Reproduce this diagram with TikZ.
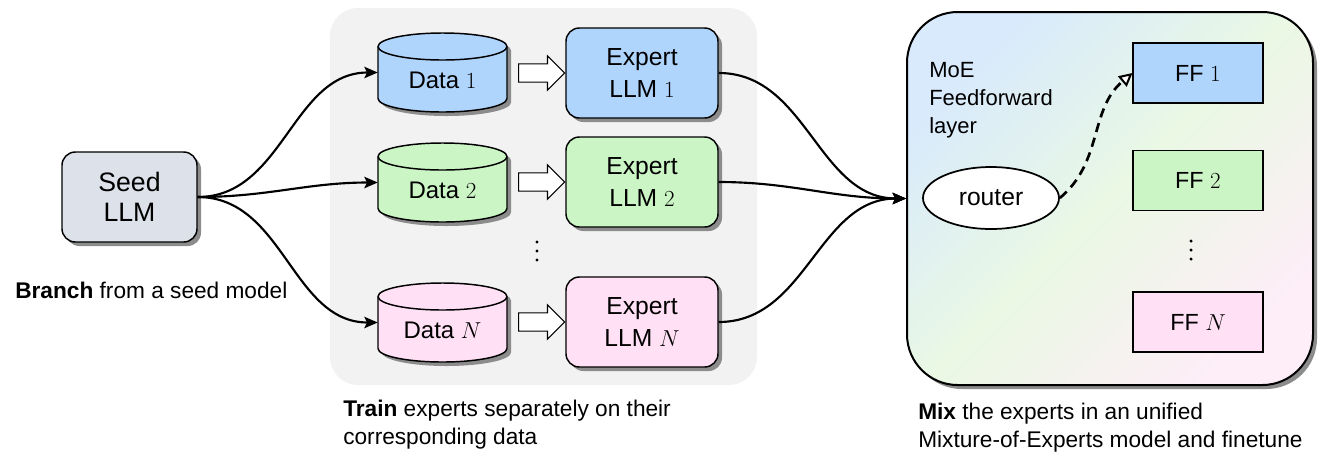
\documentclass[tikz,border=0pt]{standalone}
\usepackage[no-math]{fontspec}
\setmainfont{Liberation Sans}
\usetikzlibrary{arrows.meta,shapes.geometric,shapes.arrows,shadows,calc}
\definecolor{cblue}{HTML}{B0D5FD}
\definecolor{cgreen}{HTML}{CCF5C6}
\definecolor{cpink}{HTML}{FFE0F4}
\definecolor{cseed}{HTML}{DDE1EA}
\definecolor{cpanel}{HTML}{F2F2F2}
\definecolor{cshadow}{HTML}{8C8C8C}
\definecolor{moeA}{HTML}{D8EAFC}
\definecolor{moeB}{HTML}{EAF8E4}
\definecolor{moeC}{HTML}{FDEEF7}
\newcommand\datacyl[4]{%
  \fill[cshadow] (382,{#2-22}) -- (382,{#2+30}) arc(180:0:64.5 and 13.5) -- (511,{#2-22}) arc(0:-180:64.5 and 13.5) -- cycle;
  \draw[fill=#3, line width=1.1pt] (378,{#2-26}) -- (378,{#2+26}) arc(180:0:64.5 and 13.5) -- (507,{#2-26}) arc(0:-180:64.5 and 13.5) -- cycle;
  \draw[line width=1.1pt] (378,{#2-26}) arc(180:0:64.5 and 13.5);
  \node[datanode] (#1) at (442.5,#2) {};
  \node[datatext] (#1t) at (442.5,{#2+8}) {#4};
}
\newcommand\vdotsat[1]{%
  \fill ([yshift=6.75pt]#1) circle[radius=1.3pt];
  \fill (#1) circle[radius=1.3pt];
  \fill ([yshift=-6.75pt]#1) circle[radius=1.3pt];
}
\begin{document}
\begin{tikzpicture}[x=0.75pt,y=-0.75pt,
  boxshadow/.style={drop shadow={shadow xshift=3pt,shadow yshift=-3pt,fill=cshadow,opacity=1}},
  seedbox/.style={draw, line width=1.1pt, rounded corners=10pt, fill=cseed, minimum width=135*0.75pt, minimum height=90*0.75pt, align=center, font=\fontsize{20}{22.5}\selectfont, boxshadow},
  llmbox/.style={draw, line width=1.1pt, rounded corners=10pt, minimum width=152*0.75pt, minimum height=90*0.75pt, align=center, font=\fontsize{18.5}{24}\selectfont, boxshadow},
  datanode/.style={inner sep=0pt, minimum width=129*0.75pt, minimum height=79*0.75pt},
  datatext/.style={inner sep=0pt, font=\fontsize{18}{22}\selectfont},
  ffbox/.style={draw, line width=0.8pt, minimum width=130*0.75pt, minimum height=60*0.75pt, font=\fontsize{17.5}{21}\selectfont},
  routernode/.style={ellipse, draw, line width=1.3pt, fill=white, minimum width=136*0.75pt, minimum height=62*0.75pt, inner sep=0pt, font=\fontsize{18.5}{22}\selectfont},
  blockarrow/.style={single arrow, draw, fill=white, line width=0.8pt, minimum height=46*0.75pt, inner xsep=0pt, inner ysep=6.4pt, single arrow head extend=6pt, single arrow tip angle=90},
  conn/.style={line width=1.6pt, -{Stealth[length=10pt,width=8.5pt,inset=2pt]}},
  dashconn/.style={line width=2pt, dash pattern=on 7pt off 4.5pt, -{Triangle[open,length=10pt,width=10pt,fill=white,line width=1.5pt]}},
  lbl/.style={inner sep=0pt, font=\fontsize{17}{21}\selectfont, align=left}
]
\useasboundingbox (0,0) rectangle (1329,462);

% training panel
\node[fill=cpanel, rounded corners=21pt, minimum width=427*0.75pt, minimum height=377*0.75pt] (panel) at (543.5,196.5) {};

% seed
\node[seedbox] (seed) at (129.5,197) {Seed\\LLM};
\node[lbl, anchor=west] (branch) at (15,290) {\textbf{Branch} from a seed model};

% data cylinders
\datacyl{d1}{72.5}{cblue}{Data $1$}
\datacyl{d2}{182.5}{cgreen}{Data $2$}
\datacyl{dn}{322.5}{cpink}{Data $N$}

% block arrows
\node[blockarrow] (a1) at (537,73) {};
\node[blockarrow] (a2) at (537,182) {};
\node[blockarrow] (an) at (537,322) {};

% experts
\node[llmbox, fill=cblue] (e1) at (642,73) {Expert\\LLM $1$};
\node[llmbox, fill=cgreen] (e2) at (642,182) {Expert\\LLM $2$};
\node[llmbox, fill=cpink] (en) at (642,322) {Expert\\LLM $N$};
\coordinate (dots1) at (537,251);
\vdotsat{dots1}

\node[lbl, anchor=north west] (train) at (343,400) {\textbf{Train} experts separately on their\\corresponding data};

% MoE box
\node[draw, line width=1.5pt, rounded corners=38pt, minimum width=406*0.75pt, minimum height=373*0.75pt,
      top color=moeA, bottom color=moeC, middle color=moeB, shading angle=45, boxshadow] (moe) at (1110,198.5) {};
\node[lbl, anchor=north west, font=\fontsize{16.5}{21}\selectfont] (moetxt) at (929,62) {MoE\\Feedforward\\layer};
\node[routernode] (router) at (991,198) {router};
\node[ffbox, fill=cblue] (ff1) at (1198,73) {FF $1$};
\node[ffbox, fill=cgreen] (ff2) at (1198,180.5) {FF $2$};
\node[ffbox, fill=cpink] (ffn) at (1198,322) {FF $N$};
\coordinate (dots2) at (1191,250);
\vdotsat{dots2}

\node[lbl, anchor=north west] (mix) at (918,403) {\textbf{Mix} the experts in an unified\\Mixture-of-Experts model and finetune};

% connectors
\draw[conn] (seed.east) to[out=0,in=180] (d1.west);
\draw[conn] (seed.east) to[out=0,in=180] (d2.west);
\draw[conn] (seed.east) to[out=0,in=180] (dn.west);
\draw[conn] (e1.east) to[out=0,in=180] (moe.west);
\draw[conn] (e2.east) to[out=0,in=180] (moe.west);
\draw[conn] (en.east) to[out=0,in=180] (moe.west);
\draw[dashconn] (router.east) to[out=40,in=-140] (ff1.west);
\end{tikzpicture}
\end{document}
